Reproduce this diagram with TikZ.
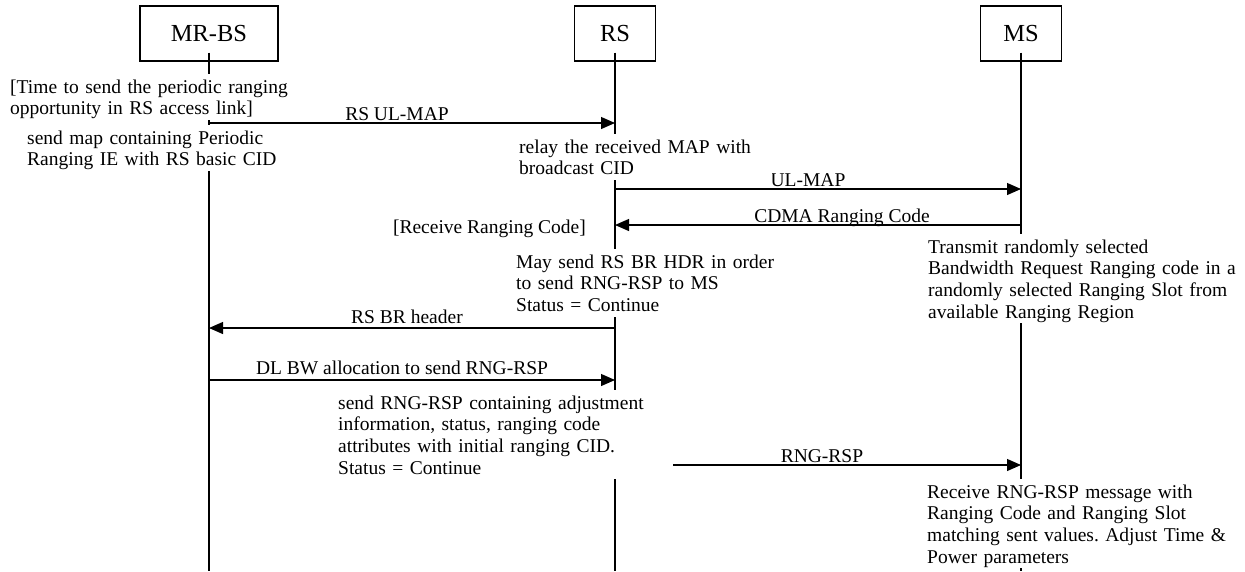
\documentclass[tikz,border=0pt]{standalone}
\usepackage{fontspec}
\setmainfont{Liberation Serif}
\usetikzlibrary{arrows.meta}
\frenchspacing
\begin{document}
\begin{tikzpicture}[x=1pt,y=-1pt,
  ent/.style={draw,line width=1.4pt,minimum width=#1,minimum height=55pt,inner sep=0pt,font=\fontsize{24.5}{28}\selectfont},
  life/.style={line width=1.2pt},
  msg/.style={line width=1.2pt,-{Triangle[length=14pt,width=12pt]}},
  lbl/.style={inner sep=0pt,anchor=base,font=\fontsize{19.5}{21.7}\selectfont},
  note/.style={fill=white,anchor=north west,align=left,text width=#1,inner xsep=3pt,inner ysep=0.5pt,
    font=\fontsize{19.5}{21.7}\selectfont\frenchspacing,
    execute at begin node={\rule{0pt}{19pt}},
    execute at end node={\rule[-4.5pt]{0pt}{4.5pt}}},
]
\useasboundingbox (0,0) rectangle (1245,571);

% entities
\node[ent=138pt] (mrbs) at (209,33.5) {MR-BS};
\node[ent=81pt] (rs) at (615,33.5) {RS};
\node[ent=81pt] (ms) at (1021,33.5) {MS};

% lifelines
\coordinate (mrbsEnd) at (mrbs |- 0,571);
\coordinate (rsEnd) at (rs |- 0,571);
\coordinate (msEnd) at (ms |- 0,571);
\draw[life] ([yshift=9pt]mrbs.south) -- (mrbsEnd);
\draw[life] ([yshift=9pt]rs.south) -- (rsEnd);
\draw[life] ([yshift=9pt]ms.south) -- (msEnd);

% message end points
\coordinate (m1a) at (mrbs |- 0,123);   \coordinate (m1b) at (rs |- 0,123);
\coordinate (m2a) at (rs |- 0,189);     \coordinate (m2b) at (ms |- 0,189);
\coordinate (m3a) at (ms |- 0,225);     \coordinate (m3b) at (rs |- 0,225);
\coordinate (m4a) at (rs |- 0,328);     \coordinate (m4b) at (mrbs |- 0,328);
\coordinate (m5a) at (mrbs |- 0,380);   \coordinate (m5b) at (rs |- 0,380);
\coordinate (m6a) at (rs |- 0,465);     \coordinate (m6b) at (ms |- 0,465);

% messages
\draw[msg] (m1a) -- (m1b);
\draw[msg] (m2a) -- (m2b);
\draw[msg] (m3a) -- (m3b);
\draw[msg] (m4a) -- (m4b);
\draw[msg] (m5a) -- (m5b);
\draw[msg] (m6a) -- (m6b);

% message labels
\node[lbl] (l1) at (397,120) {RS UL-MAP};
\node[lbl] (l2) at (808,186) {UL-MAP};
\node[lbl] (l3) at (842,222) {CDMA Ranging Code};
\node[lbl] (l4) at (407,323) {RS BR header};
\node[lbl] (l5) at (402,374) {DL BW allocation to send RNG-RSP};
\node[lbl] (l6) at (822,462) {RNG-RSP};
\node[lbl,anchor=base east] (l7) at (586,233) {[Receive Ranging Code]};

% notes (white background hides the lifelines)
\node[note=285pt] (t1) at (7,73.5) {[Time to send the periodic ranging\\opportunity in RS access link]};
\node[note=260pt] (t2) at (24,124.5) {send map containing Periodic\\Ranging IE with RS basic CID};
\node[note=250pt] (t3) at (516,133.5) {relay the received MAP with\\broadcast CID};
\node[note=270pt] (t5) at (513,248.5) {May send RS BR HDR in order\\to send RNG-RSP to MS\\Status = Continue};
\node[note=318pt] (t6) at (925,233.5) {Transmit randomly selected\\Bandwidth Request Ranging code in a\\randomly selected Ranging Slot from\\available Ranging Region};
\node[note=332pt] (t7) at (335,389.5) {send RNG-RSP containing adjustment\\information, status, ranging code\\attributes with initial ranging CID.\\Status = Continue};
\node[note=318pt] (t8) at (924,478.5) {Receive RNG-RSP message with\\Ranging Code and Ranging Slot\\matching sent values. Adjust Time \&\\Power parameters};
\end{tikzpicture}
\end{document}
